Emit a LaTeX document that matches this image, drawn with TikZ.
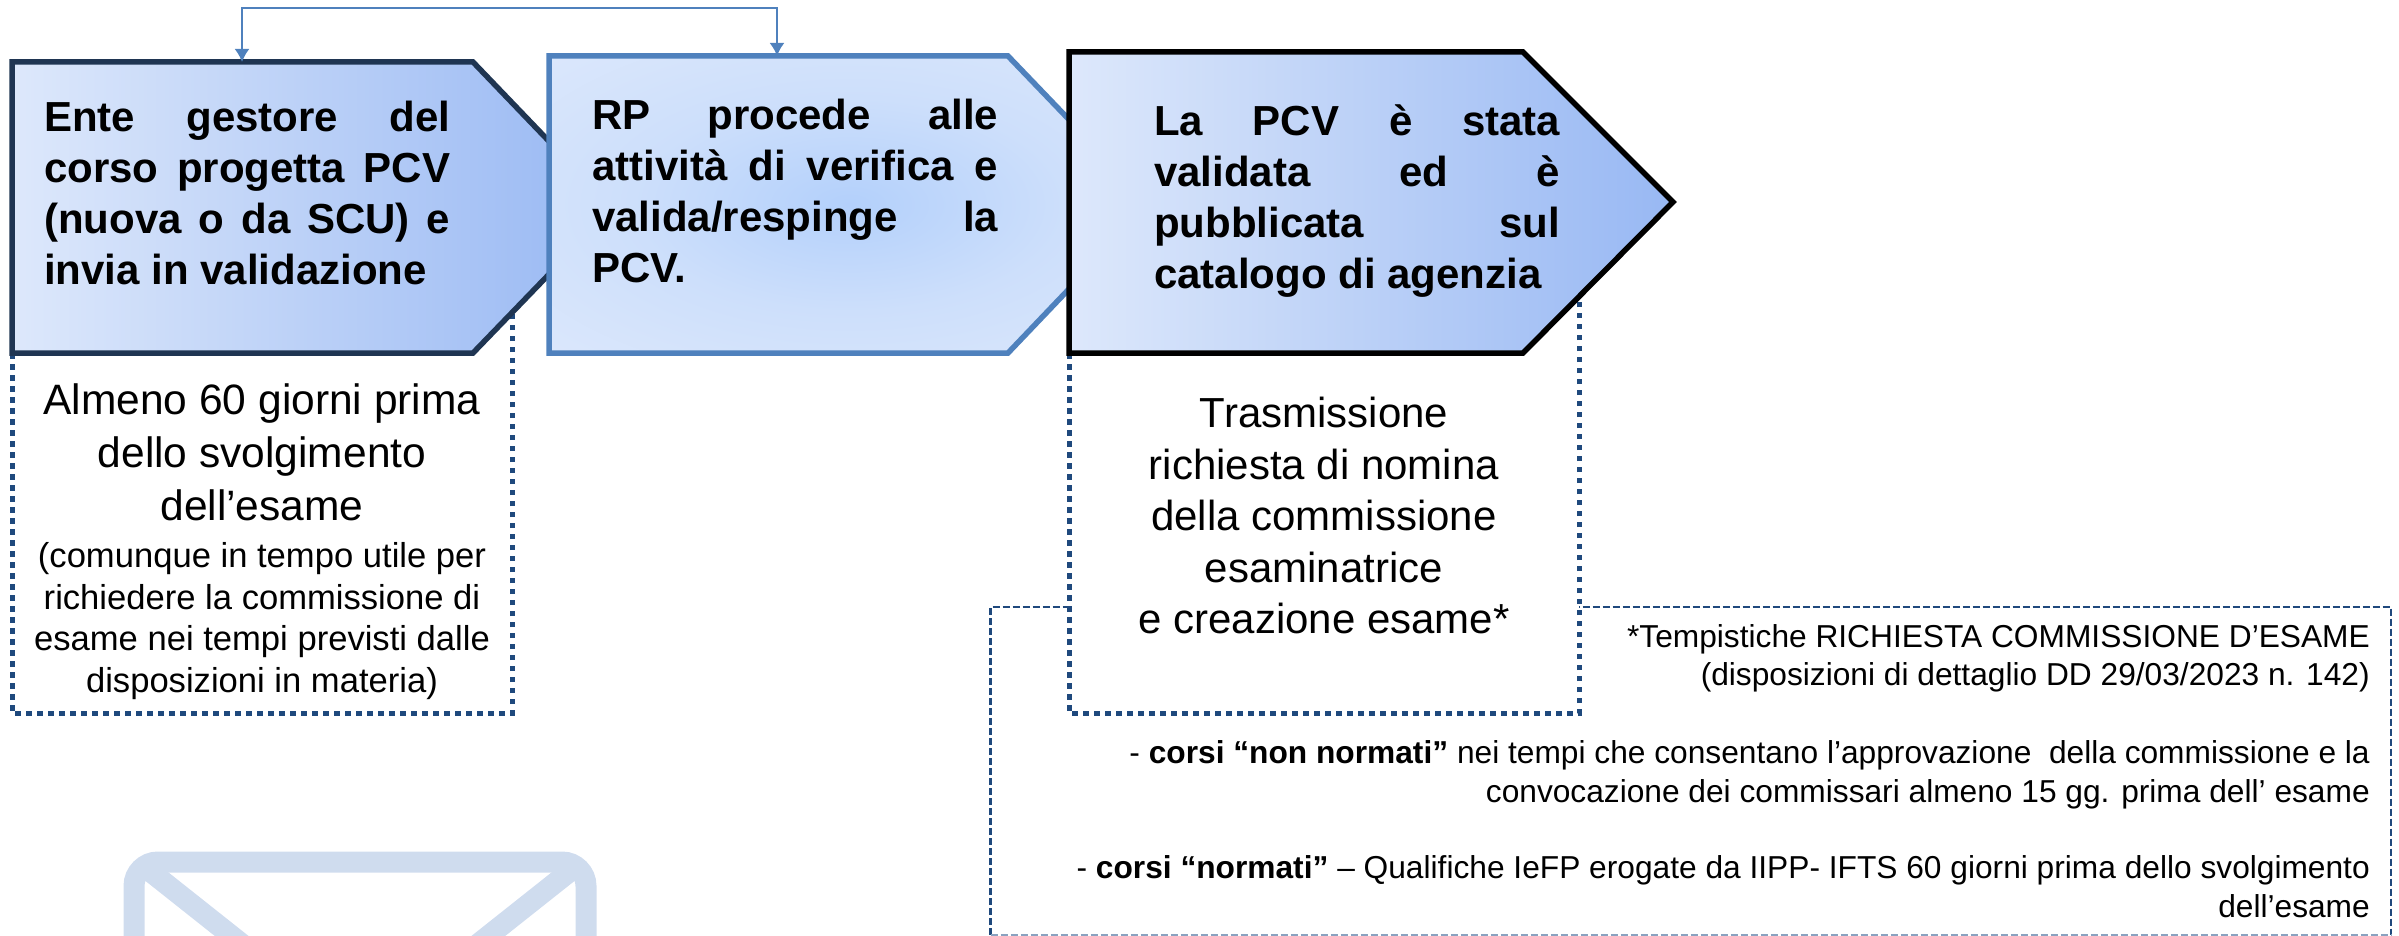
\documentclass[tikz,border=0pt]{standalone}
\usepackage{fontspec}
\setmainfont{Liberation Sans}
\usetikzlibrary{arrows.meta}
\definecolor{navy}{HTML}{1F3552}
\definecolor{midblue}{HTML}{4F81BD}
\definecolor{dotblue}{HTML}{1F497D}
\definecolor{gradL}{HTML}{DDE8FB}
\definecolor{gradM}{HTML}{C8D9F8}
\definecolor{gradR}{HTML}{98B8F3}
\definecolor{radI}{HTML}{B3D0FB}
\definecolor{radN}{HTML}{CDDFFB}
\definecolor{radO}{HTML}{E0EAFC}
\definecolor{env}{HTML}{CFDCEE}
\definecolor{dashlow}{HTML}{8AA2C0}
\pgfdeclareradialshading{wideglow}{\pgfpoint{0bp}{0bp}}{color(0bp)=(radI); color(18bp)=(radN); color(42bp)=(radO); color(100bp)=(radO)}
\tolerance=10000 \hbadness=10000 \hfuzz=5pt
\hyphenpenalty=10000 \exhyphenpenalty=10000
\tikzset{
  x=1pt,y=-1pt,
  lin/.style={left color=gradL,middle color=gradM,right color=gradR,line join=miter,line width=5.5pt},
  boxtext/.style={anchor=north west,inner sep=0pt,text width=406pt,align=justify,font=\fontsize{42}{51}\selectfont\bfseries},
  bigtext/.style={anchor=north,inner sep=0pt,align=center,font=\fontsize{42.5}{53}\selectfont},
  midtext/.style={anchor=north,inner sep=0pt,align=center,font=\fontsize{34.6}{41.5}\selectfont},
  smalltext/.style={anchor=north east,inner sep=0pt,align=right,font=\fontsize{31.7}{38.5}\selectfont},
  dotline/.style={draw=dotblue,line width=5pt,dash pattern=on 5.5pt off 5.5pt},
  dashbox/.style={draw=dotblue,line width=2.5pt,dash pattern=on 7.5pt off 2.5pt},
  link/.style={draw=midblue,line width=2pt,{Latex[length=13pt,width=15pt]}-{Latex[length=13pt,width=15pt]}},
}
\begin{document}
\begin{tikzpicture}
\useasboundingbox (0,0) rectangle (2399,936);
% envelope
\draw[env,line width=21pt,rounded corners=24pt,line cap=butt] (134,862) rectangle (586,1000);
\draw[env,line width=21pt] (146,868) -- (262,960);
\draw[env,line width=21pt] (574,868) -- (458,960);
% dashed note
\draw[dashbox] (990.5,935) -- (990.5,607) -- (2391,607) -- (2391,935);
\draw[dashlow,line width=2pt,dash pattern=on 7.5pt off 2.5pt] (990.5,935) -- (2391,935);
% dotted boxes
\fill[white] (12,340) rectangle (512,713);
\fill[white] (1069,340) rectangle (1579,713);
\draw[dotline] (12,353) -- (12,713) -- (512,713) -- (512,300);
\draw[dotline] (1069,353) -- (1069,713) -- (1579,713) -- (1579,285);
% chevrons
\draw[draw=navy,lin] (12,62) -- (473,62) -- (613,208) -- (473,353) -- (12,353) -- cycle;
\draw[draw=midblue,line width=5.5pt,line join=miter,shade,shading=wideglow] (549,56) -- (1008,56) -- (1150,204) -- (1008,353) -- (549,353) -- cycle;
\draw[draw=black,lin] (1069,52) -- (1523,52) -- (1673,202) -- (1523,353) -- (1069,353) -- cycle;
\coordinate (atop) at (242,62);
\coordinate (btop) at (777,56);
\coordinate (ctop) at (242,8);
\coordinate (dtop) at (777,8);
\draw[link] (atop) -- (ctop) -- (dtop) -- (btop);
% text
\node[boxtext] (ta) at (44,100.5) {Ente gestore del\linebreak corso progetta PCV\linebreak (nuova o da SCU) e\linebreak invia in validazione};
\node[boxtext] (tb) at (592,99) {RP procede alle\linebreak attività di verifica e\linebreak valida/respinge la\linebreak PCV.};
\node[boxtext] (tc) at (1154,104) {La PCV è stata\linebreak validata ed è\linebreak pubblicata sul\linebreak catalogo di agenzia};
\node[bigtext] (tal) at (262,384) {Almeno 60 giorni prima\\dello svolgimento\\dell’esame};
\node[midtext] (tcom) at (262,542.5) {(comunque in tempo utile per\\richiedere la commissione di\\esame nei tempi previsti dalle\\disposizioni in materia)};
\node[bigtext,font=\fontsize{42}{51.5}\selectfont] (ttr) at (1324,397) {Trasmissione\\richiesta di nomina\\della commissione\\esaminatrice\\e creazione esame*};
\node[smalltext] (n1) at (2370,624) {*Tempistiche RICHIESTA COMMISSIONE D’ESAME\\(disposizioni di dettaglio DD 29/03/2023 n. 142)};
\node[smalltext] (n2) at (2370,740.5) {- \textbf{corsi “non normati”} nei tempi che consentano l’approvazione\ \ della commissione e la\\convocazione dei commissari almeno 15 gg. prima dell’ esame};
\node[smalltext] (n3) at (2370,855.5) {- \textbf{corsi “normati”} – Qualifiche IeFP erogate da IIPP- IFTS 60 giorni prima dello svolgimento\\dell’esame};
\end{tikzpicture}
\end{document}
